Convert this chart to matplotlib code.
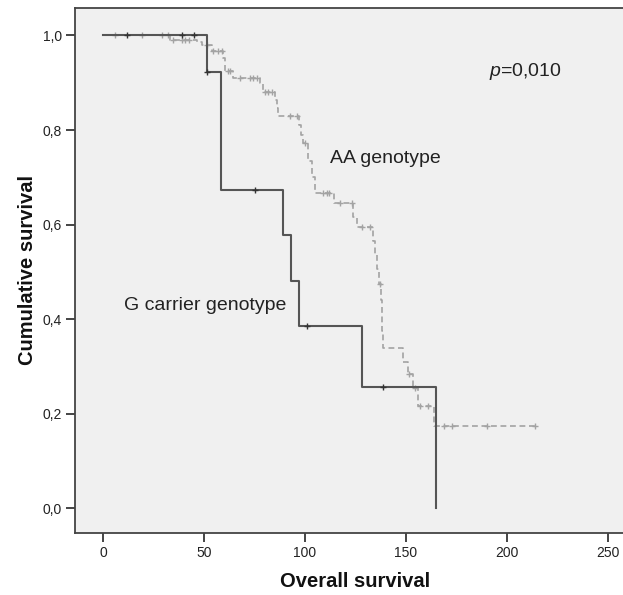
import numpy as np
import matplotlib
matplotlib.use("Agg")
import matplotlib.pyplot as plt

plt.rcParams['font.family'] = ['Liberation Sans', 'DejaVu Sans']
plt.rcParams['mathtext.fontset'] = 'custom'
plt.rcParams['mathtext.it'] = 'Liberation Sans:italic'
plt.rcParams['mathtext.rm'] = 'Liberation Sans'

# ---- data ----
g_times = [0, 51.3, 58.2, 88.9, 92.9, 96.9, 128.1, 164.9]
g_surv = [1.0, 0.923, 0.673, 0.577, 0.481, 0.385, 0.257, 0.0]
g_censor = [11.9, 39.2, 45.0, 51.5, 75.0, 100.8, 138.8]

aa_times = [0, 33.0, 46.3, 48.8, 53.7, 59.2, 60.4, 64.4, 77.7, 79.4, 85.1, 85.9,
            86.5, 97.0, 98.0, 99.2, 101.6, 103.3, 105.0, 114.5, 123.9, 125.6,
            133.9, 134.8, 135.7, 136.5, 137.6, 138.0, 138.4, 138.8, 148.7,
            151.2, 153.7, 155.9, 164.0, 214.0]
aa_surv = [1.0, 0.991, 0.986, 0.979, 0.967, 0.952, 0.925, 0.911, 0.899, 0.881,
           0.863, 0.847, 0.830, 0.811, 0.789, 0.772, 0.735, 0.700, 0.666, 0.645,
           0.617, 0.594, 0.565, 0.535, 0.505, 0.475, 0.440, 0.407, 0.374, 0.340,
           0.310, 0.283, 0.254, 0.216, 0.174, 0.174]
aa_censor = [5.8, 19.0, 29.0, 32.0, 34.7, 39.2, 40.5, 42.6, 51.6, 54.4, 56.9,
             58.7, 61.8, 62.8, 67.8, 72.7, 74.2, 76.0, 80.2, 81.8, 83.5, 92.6,
             95.9, 100.0, 109.0, 110.8, 112.1, 117.3, 123.1, 128.1, 132.2,
             137.0, 151.7, 154.5, 157.0, 161.2, 168.9, 172.7, 190.1, 214.0]

x_ticks = [0, 50, 100, 150, 200, 250]
y_ticks = [0.0, 0.2, 0.4, 0.6, 0.8, 1.0]
y_ticklabels = ['0,0', '0,2', '0,4', '0,6', '0,8', '1,0']


def surv_at(times, surv, t):
    idx = np.searchsorted(np.asarray(times), t, side='right') - 1
    return np.asarray(surv)[idx]


W, H = 623, 595
AX_L, AX_R, AX_T, AX_B = 75.3, 634.7, 8.0, 532.7
fig = plt.figure(figsize=(W / 100, H / 100), dpi=100)
ax = fig.add_axes([AX_L / W, 1 - AX_B / H, (AX_R - AX_L) / W, (AX_B - AX_T) / H])
ax.set_facecolor('#f0f0f0')

aa_col = '#a3a3a3'
g_col = '#555555'

ax.step(aa_times, aa_surv, where='post', color=aa_col, lw=1.2,
        linestyle=(0, (3.5, 2.2)), zorder=2)
ax.plot(aa_censor, surv_at(aa_times, aa_surv, aa_censor), linestyle='none',
        marker='+', markersize=4, mew=1.0, color=aa_col, zorder=2)

ax.step(g_times, g_surv, where='post', color=g_col, lw=1.5, zorder=3)
ax.plot(g_censor, surv_at(g_times, g_surv, g_censor), linestyle='none',
        marker='+', markersize=4, mew=1.0, color='#333333', zorder=3)

px_per_unit = 2.017
ax.set_xlim((AX_L - 103.3) / px_per_unit, (AX_R - 103.3) / px_per_unit)
ax.set_ylim(-0.0516, 1.058)
ax.set_xticks(x_ticks)
ax.set_xticklabels([str(v) for v in x_ticks])
ax.set_yticks(y_ticks)
ax.set_yticklabels(y_ticklabels)

for s in ['top', 'right', 'bottom', 'left']:
    ax.spines[s].set_color('#444444')
    ax.spines[s].set_linewidth(1.3)
ax.tick_params(axis='both', direction='out', length=6.5, width=1.4,
               color='#444444', labelsize=10, labelcolor='#222222', pad=3)

ax.set_xlabel('Overall survival', fontsize=14.5, fontweight='bold', color='#111111',
              labelpad=9)
ax.set_ylabel('Cumulative survival', fontsize=14.5, fontweight='bold', color='#111111',
              labelpad=4)

fig.text(330 / W, 1 - 159 / H, 'AA genotype', fontsize=14, color='#222222',
         ha='left', va='center')
fig.text(286 / W, 1 - 305 / H, 'G carrier genotype', fontsize=14, color='#222222',
         ha='right', va='center')
fig.text(489 / W, 1 - 72 / H, r'$p$=0,010', fontsize=14, color='#222222',
         ha='left', va='center')

plt.savefig('out.png', dpi=100)
